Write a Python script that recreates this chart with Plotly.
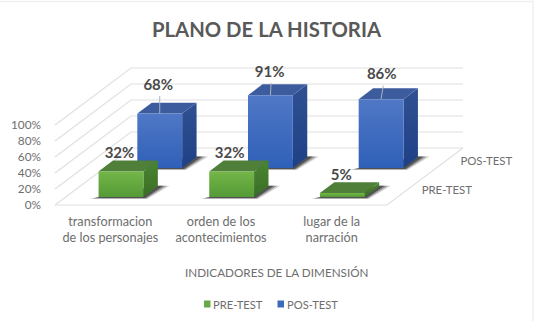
import plotly.graph_objects as go

# Chart values
categories = ["transformacion<br>de los personajes", "orden de los<br>acontecimientos", "lugar de la<br>narración"]
series_names = ["PRE-TEST", "POS-TEST"]
pre_test = [32, 32, 5]
pos_test = [68, 91, 86]
value_ticks = [0, 20, 40, 60, 80, 100]
value_tick_labels = ["0%", "20%", "40%", "60%", "80%", "100%"]

title_text = "PLANO DE LA HISTORIA"
axis_title_text = "INDICADORES DE LA DIMENSIÓN"

# Canvas and scale
WIDTH, HEIGHT = 537, 321
PX_PER_CAT = 110.67
PX_PER_PCT = 0.8
ORIGIN_X, ORIGIN_Y = 55.0, 205.0
DEPTH_DX, DEPTH_DY = 76.0, 57.0  # pixel shift of the full floor depth
BAR_WIDTH = 0.405
DEPTH_SPANS = [(0.14, 0.33), (0.65, 0.84)]

FONT = "Lato, 'Open Sans', sans-serif"
GREY = "#6e6e6e"
DARK = "#4a4a4a"
GRID = "#e0e0e0"

# Gradient stops run bottom colour first, top colour second
GREEN = dict(front=["#549a36", "#74b648"], side=["#3a6e26", "#4a8530"], top="#4f7f38", swatch="#6aa84a")
BLUE = dict(front=["#2f60b8", "#5078c6"], side=["#1f4086", "#2f5192"], top="#3d5c9e", swatch="#3f69bf")


def dx(px):
    return px / PX_PER_CAT


def dy(px):
    return px / PX_PER_PCT


def project(cat, depth, value):
    """Oblique projection of (category, depth, value) onto the 2D axes."""
    return cat + dx(DEPTH_DX) * depth, value + dy(DEPTH_DY) * depth


def polygon(fig, pts, **kw):
    xs = [p[0] for p in pts] + [pts[0][0]]
    ys = [p[1] for p in pts] + [pts[0][1]]
    fig.add_trace(go.Scatter(x=xs, y=ys, mode="lines", fill="toself", line=dict(width=0),
                             hoverinfo="skip", showlegend=False, **kw))


def vgrad(colors):
    return dict(type="vertical", colorscale=[[0, colors[0]], [1, colors[1]]])


def draw_bar(fig, i, spans, value, style):
    c0, c1 = i + 0.5 - BAR_WIDTH / 2, i + 0.5 + BAR_WIDTH / 2
    d0, d1 = spans
    # soft floor shadow, layered for a feathered edge
    fa, fb = project(c0, d0, 0), project(c1, d0, 0)
    ba = project(c1, d1, 0)
    for grow, alpha in ((1.3, 0.2), (0.95, 0.35), (0.6, 0.55)):
        polygon(fig, [(fa[0] - dx(7 * grow), fa[1] - dy(1.6 * grow)), (fb[0] + dx(3 * grow), fb[1] - dy(1.6 * grow)),
                      (ba[0] + dx(9 * grow), ba[1] + dy(0.5)), (ba[0], ba[1] + dy(0.5))],
                fillcolor=f"rgba(30,30,30,{alpha})")
    # side, top and front faces
    polygon(fig, [project(c1, d0, 0), project(c1, d1, 0), project(c1, d1, value), project(c1, d0, value)],
            fillgradient=vgrad(style["side"]))
    polygon(fig, [project(c0, d0, value), project(c1, d0, value), project(c1, d1, value), project(c0, d1, value)],
            fillcolor=style["top"])
    polygon(fig, [project(c0, d0, 0), project(c1, d0, 0), project(c1, d0, value), project(c0, d0, value)],
            fillgradient=vgrad(style["front"]))


fig = go.Figure()

# Side wall, back wall and floor lines
grid_x, grid_y = [], []
for v in value_ticks:
    a, b, c = project(0, 0, v), project(0, 1, v), project(3, 1, v)
    grid_x += [a[0], b[0], c[0], None]
    grid_y += [a[1], b[1], c[1], None]
a, b, c = project(0, 0, 0), project(3, 0, 0), project(3, 1, 0)
grid_x += [a[0], b[0], c[0]]
grid_y += [a[1], b[1], c[1]]
fig.add_trace(go.Scatter(x=grid_x, y=grid_y, mode="lines", line=dict(color=GRID, width=1.2),
                         hoverinfo="skip", showlegend=False))

# Rear row first so the front row overlaps it
for values, spans, style in ((pos_test, DEPTH_SPANS[1], BLUE), (pre_test, DEPTH_SPANS[0], GREEN)):
    for i, v in enumerate(values):
        draw_bar(fig, i, spans, v, style)

# Leader lines and value labels (pixel nudges per label)
pos_offsets = [(-1.5, 27.5), (-0.8, 22), (0.7, 23.5)]
pre_offsets = [(-1.5, 17), (-2, 17), (-1, 17)]
for values, spans, offsets, leader in ((pos_test, DEPTH_SPANS[1], pos_offsets, True),
                                       (pre_test, DEPTH_SPANS[0], pre_offsets, False)):
    lx, ly, lt = [], [], []
    for i, v in enumerate(values):
        x0, y0 = project(i + 0.5, spans[0], v)
        ox, oy = offsets[i]
        tx, ty = x0 + dx(ox), y0 + dy(oy)
        lx.append(tx)
        ly.append(ty)
        lt.append(f"{v}%")
        if leader:
            fig.add_trace(go.Scatter(x=[tx + dx(1.5), x0], y=[ty - dy(10), y0], mode="lines",
                                     line=dict(color="#a9b2c2", width=1), hoverinfo="skip", showlegend=False))
    fig.add_trace(go.Scatter(x=lx, y=ly, mode="text", text=lt, textposition="middle center",
                             textfont=dict(family=FONT, size=15, color=DARK, weight="bold"),
                             hoverinfo="skip", showlegend=False))

# Depth-axis labels
for name, spans in zip(series_names, DEPTH_SPANS):
    px_, py_ = project(3, sum(spans) / 2 + 0.01, 0)
    fig.add_trace(go.Scatter(x=[px_ + dx(16)], y=[py_], mode="text", text=[name], textposition="middle right",
                             textfont=dict(family=FONT, size=11.4, color=GREY), hoverinfo="skip", showlegend=False))

x_range = [-ORIGIN_X / PX_PER_CAT, (WIDTH - ORIGIN_X) / PX_PER_CAT]
y_range = [(ORIGIN_Y - HEIGHT) / PX_PER_PCT, ORIGIN_Y / PX_PER_PCT]

fig.update_layout(
    width=WIDTH, height=HEIGHT, margin=dict(l=0, r=0, t=0, b=0),
    paper_bgcolor="white", plot_bgcolor="rgba(0,0,0,0)", showlegend=False,
    font=dict(family=FONT, color=GREY),
    xaxis=dict(range=x_range, domain=[0, 1], anchor="free", position=(HEIGHT - 212) / HEIGHT,
               tickmode="array", tickvals=[0.5, 1.5, 2.5], ticktext=categories,
               showgrid=False, zeroline=False, showline=False, ticks="",
               tickfont=dict(family=FONT, size=12.7, color=GREY)),
    yaxis=dict(range=y_range, domain=[0, 1], anchor="free", position=41 / WIDTH,
               tickmode="array", tickvals=value_ticks, ticktext=value_tick_labels,
               showgrid=False, zeroline=False, showline=False, ticks="",
               tickfont=dict(family=FONT, size=11.8, color=GREY)),
    shapes=[
        # faint page frame
        dict(type="rect", xref="paper", yref="paper", x0=-0.01, x1=533 / WIDTH, y0=-0.02, y1=1 - 1.5 / HEIGHT,
             line=dict(color="#f0f0f0", width=1.5), fillcolor="rgba(0,0,0,0)", layer="below"),
        # legend swatches
        dict(type="rect", xref="paper", yref="paper", x0=204 / WIDTH, x1=210.5 / WIDTH,
             y0=1 - 307.5 / HEIGHT, y1=1 - 300.5 / HEIGHT, fillcolor=GREEN["swatch"], line=dict(width=0)),
        dict(type="rect", xref="paper", yref="paper", x0=277.5 / WIDTH, x1=284 / WIDTH,
             y0=1 - 307.5 / HEIGHT, y1=1 - 300.5 / HEIGHT, fillcolor=BLUE["swatch"], line=dict(width=0)),
    ],
    annotations=[
        dict(text=f"<b>{title_text}</b>", xref="paper", yref="paper", x=267 / WIDTH, y=1 - 29 / HEIGHT,
             showarrow=False, xanchor="center", yanchor="middle", font=dict(family=FONT, size=20.3, color="#595959")),
        dict(text=axis_title_text, xref="paper", yref="paper", x=276 / WIDTH, y=1 - 272 / HEIGHT,
             showarrow=False, xanchor="center", yanchor="middle", font=dict(family=FONT, size=11.7, color=GREY)),
        dict(text=series_names[0], xref="paper", yref="paper", x=211 / WIDTH, y=1 - 304 / HEIGHT,
             showarrow=False, xanchor="left", yanchor="middle", font=dict(family=FONT, size=11.2, color=GREY)),
        dict(text=series_names[1], xref="paper", yref="paper", x=285 / WIDTH, y=1 - 304 / HEIGHT,
             showarrow=False, xanchor="left", yanchor="middle", font=dict(family=FONT, size=11.2, color=GREY)),
    ],
)

fig.write_html("out.html", config=dict(displayModeBar=False))
